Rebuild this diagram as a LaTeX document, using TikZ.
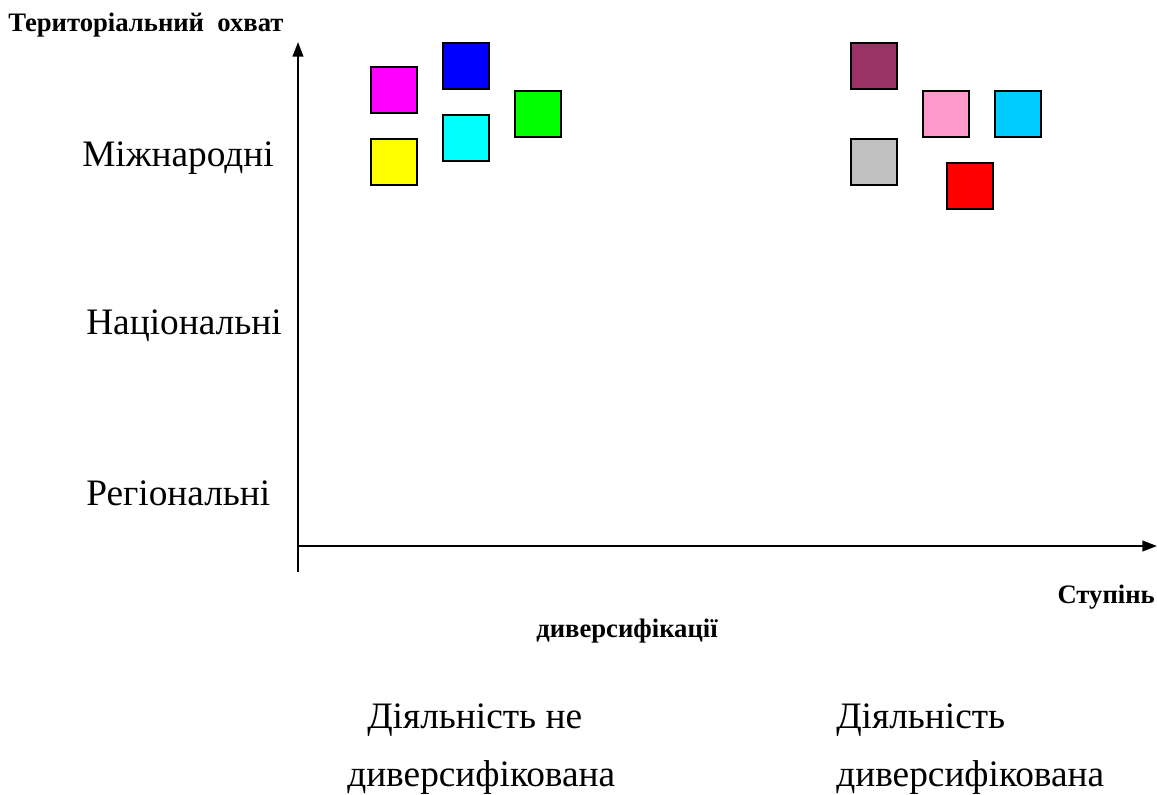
\documentclass[tikz,border=0pt]{standalone}
\usepackage{fontspec}
\setmainfont{Liberation Serif}
\usetikzlibrary{arrows.meta}
\definecolor{plum}{HTML}{993366}
\definecolor{rosepink}{HTML}{FF99CC}
\definecolor{skyblue}{HTML}{00CCFF}
\definecolor{silvergray}{HTML}{C0C0C0}
\definecolor{puremagenta}{HTML}{FF00FF}
\definecolor{purecyan}{HTML}{00FFFF}
\definecolor{pureblue}{HTML}{0000FF}
\definecolor{puregreen}{HTML}{00FF00}
\definecolor{pureyellow}{HTML}{FFFF00}
\definecolor{purered}{HTML}{FF0000}
\begin{document}
\begin{tikzpicture}[x=0.75pt,y=-0.75pt,
  axis/.style={line width=1.5pt,-{Triangle[length=11pt,width=8pt]}},
  sq/.style={draw=black,line width=1.5pt,minimum size=34.5pt,inner sep=0pt},
  bigtxt/.style={font=\fontsize{28}{32}\selectfont,inner sep=0pt},
  boldtxt/.style={font=\fontsize{20}{24}\selectfont\bfseries,inner sep=0pt}]
\useasboundingbox (0,0) rectangle (1157,794);
% axes
\coordinate (ytop) at (298,42);
\coordinate (ybot) at (298,572);
\coordinate (xleft) at (298,546);
\coordinate (xright) at (1157,546);
\draw[axis] (ybot) -- (ytop);
\draw[axis] (xleft) -- (xright);
% axis titles
\node[boldtxt,anchor=west] (ttl) at (8,25) {Територіальний\ \ охват};
\node[boldtxt,anchor=east] (stp) at (1155,597) {Ступінь};
\node[boldtxt] (div) at (627,631) {диверсифікації};
% levels
\node[bigtxt,anchor=west] (l1) at (82,158) {Міжнародні};
\node[bigtxt,anchor=west] (l2) at (86,326) {Національні};
\node[bigtxt,anchor=west] (l3) at (86,493) {Регіональні};
% activity categories
\node[bigtxt,anchor=west] (c1a) at (367,720) {Діяльність не};
\node[bigtxt,anchor=west] (c1b) at (347,778) {диверсифікована};
\node[bigtxt,anchor=west] (c2a) at (836,720) {Діяльність};
\node[bigtxt,anchor=west] (c2b) at (836,778) {диверсифікована};
% non-diversified enterprises
\node[sq,fill=puremagenta] (s1) at (394,90) {};
\node[sq,fill=pureblue] (s2) at (466,66) {};
\node[sq,fill=purecyan] (s3) at (466,138) {};
\node[sq,fill=pureyellow] (s4) at (394,162) {};
\node[sq,fill=puregreen] (s5) at (538,114) {};
% diversified enterprises
\node[sq,fill=plum] (d1) at (874,66) {};
\node[sq,fill=silvergray] (d2) at (874,162) {};
\node[sq,fill=rosepink] (d3) at (946,114) {};
\node[sq,fill=skyblue] (d4) at (1018,114) {};
\node[sq,fill=purered] (d5) at (970,186) {};
\end{tikzpicture}
\end{document}
